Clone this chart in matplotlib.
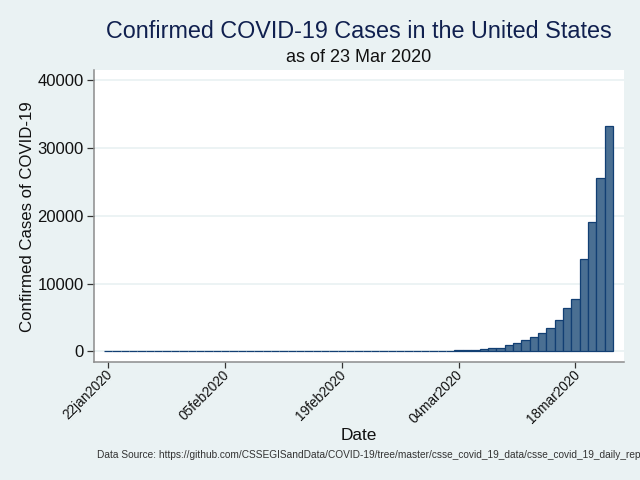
import matplotlib
matplotlib.use("Agg")
import matplotlib.pyplot as plt
import matplotlib.dates as mdates
from matplotlib.transforms import blended_transform_factory
import pandas as pd

plt.rcParams['font.family'] = ['Liberation Sans', 'DejaVu Sans']

start_date = "2020-01-22"
cases_jan = [1, 1, 2, 2, 5, 5, 5, 5, 5, 7]
cases_feb = [8, 8, 11, 11, 11, 11, 11, 11, 11, 11, 12, 12, 13, 13, 13, 13, 13, 13, 13, 13,
             15, 15, 15, 51, 51, 57, 58, 60, 68]
cases_mar = [74, 98, 118, 149, 217, 262, 402, 518, 583, 959, 1281, 1663, 2179, 2727, 3499,
             4632, 6421, 7783, 13677, 19100, 25489, 33276]
cases = cases_jan + cases_feb + cases_mar
dates = pd.date_range(start_date, periods=len(cases), freq="D")

tick_dates = pd.to_datetime(["2020-01-22", "2020-02-05", "2020-02-19", "2020-03-04", "2020-03-18"])
tick_labels = ["22jan2020", "05feb2020", "19feb2020", "04mar2020", "18mar2020"]
y_ticks = [0, 10000, 20000, 30000, 40000]
title = "Confirmed COVID-19 Cases in the United States"
subtitle = "as of 23 Mar 2020"
source = "Data Source: https://github.com/CSSEGISandData/COVID-19/tree/master/csse_covid_19_data/csse_covid_19_daily_reports"

BG = "#eaf2f3"
W, H = 640, 480
fig = plt.figure(figsize=(W / 100, H / 100), dpi=100, facecolor=BG)
L, R, T, B = 94, 623.5, 70, 362
ax = fig.add_axes([L / W, 1 - B / H, (R - L) / W, (B - T) / H], facecolor="white")

ax.bar(mdates.date2num(dates), cases, width=1.0, color="#4a6f92", edgecolor="#123f73",
       linewidth=0.9, zorder=3)
ax.set_xlim(mdates.date2num(dates[0]) - 1.71, mdates.date2num(dates[0]) + 61.76)
ax.set_ylim(-1547, 41470)

ax.set_xticks(mdates.date2num(tick_dates))
ax.set_xticklabels([])
trans = blended_transform_factory(ax.transData, ax.transAxes)
for d, lab in zip(tick_dates, tick_labels):
    ax.annotate(lab, xy=(mdates.date2num(d), 0), xycoords=trans, xytext=(-2.2, -3.9),
                textcoords="offset points", rotation=45, ha="right", va="top",
                rotation_mode="anchor", fontsize=9.8, color="#111111", annotation_clip=False)
ax.set_yticks(y_ticks)
ax.set_yticklabels([str(v) for v in y_ticks], fontsize=12, color="#111111")
ax.tick_params(axis="x", length=4.3, width=0.9, color="#333333", pad=1)
ax.tick_params(axis="y", length=5, width=0.9, color="#333333", pad=2.5)
ax.grid(axis="y", color=BG, linewidth=1.3, zorder=0)
ax.set_axisbelow(True)
for s in ("top", "right"):
    ax.spines[s].set_visible(False)
for s in ("left", "bottom"):
    ax.spines[s].set_color("#8c8c8c")
    ax.spines[s].set_linewidth(1.1)

fig.text(28 / W, 1 - 217 / H, "Confirmed Cases of COVID-19", fontsize=12.1, color="#111111",
         rotation=90, ha="center", va="center")
fig.text(358.5 / W, 1 - 31 / H, title, fontsize=16.85, color="#10204f", ha="center", va="center")
fig.text(358.5 / W, 1 - 58 / H, subtitle, fontsize=13, color="#111111", ha="center", va="center")
fig.text(358.5 / W, 1 - 435 / H, "Date", fontsize=12.4, color="#111111", ha="center", va="center")
fig.text(97 / W, 1 - 455 / H, source, fontsize=7.3, color="#333333", ha="left", va="center")

fig.savefig("out.png", dpi=100, facecolor=BG)
